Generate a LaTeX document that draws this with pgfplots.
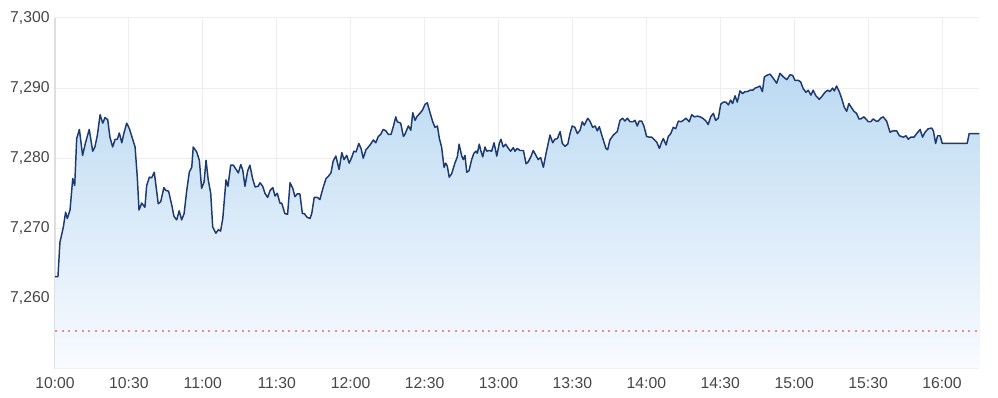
\documentclass[border=0pt]{standalone}
\usepackage{pgfplots}
\pgfplotsset{compat=1.18}
\usepackage{fontspec}
\setmainfont{Liberation Sans}
\definecolor{linec}{RGB}{28,58,110}
\definecolor{gridc}{RGB}{236,238,240}
\definecolor{axisc}{RGB}{220,222,225}
\definecolor{labc}{RGB}{70,70,70}
\definecolor{refc}{RGB}{238,140,140}
\definecolor{filltop}{RGB}{188,218,242}
\definecolor{fillbot}{RGB}{249,251,255}
\pgfplotstableread{
m v
0 7263.1
1.2 7263.1
2.0 7268.0
3.4 7270.2
4.3 7272.3
5.0 7271.4
6.1 7272.6
7.2 7277.1
8.0 7276.1
8.8 7282.8
9.9 7284.1
11.2 7280.4
12.3 7282.1
13.9 7284.1
15.3 7281.0
16.2 7281.6
17.2 7283.3
18.3 7286.2
19.4 7285.0
20.3 7285.8
21.4 7285.5
22.3 7283.0
23.4 7281.6
24.4 7282.7
25.3 7282.7
26.1 7283.6
27.1 7282.2
28.0 7283.6
29.1 7285.0
30.2 7284.2
32.5 7281.6
33.4 7277.3
34.1 7272.6
35.2 7273.6
36.5 7273.0
37.2 7276.1
38.3 7277.3
39.2 7277.2
40.3 7278.0
41.9 7273.5
42.9 7273.8
44.2 7275.8
45.0 7275.4
46.1 7275.3
47.4 7273.3
48.3 7271.7
49.4 7271.2
50.4 7272.5
51.4 7271.2
52.4 7272.1
53.4 7275.2
54.5 7278.0
55.5 7278.7
56.1 7281.6
57.5 7280.9
58.6 7279.7
59.5 7275.7
60.5 7276.6
61.3 7279.7
62.2 7276.9
63.2 7275.0
64.0 7270.2
65.3 7269.3
66.3 7269.8
67.2 7269.6
68.1 7271.4
69.4 7276.9
70.2 7276.0
71.3 7279.0
72.4 7279.0
73.5 7278.4
74.4 7277.9
75.4 7279.1
76.2 7278.3
77.1 7276.0
78.2 7278.2
79.1 7279.0
80.2 7277.1
81.2 7275.9
82.5 7276.0
83.2 7276.5
84.3 7276.0
85.2 7275.0
86.3 7274.4
87.3 7275.4
88.4 7275.8
89.3 7274.6
90.2 7275.0
91.3 7273.6
92.0 7273.6
93.3 7272.1
94.4 7272.0
95.4 7276.5
96.5 7275.7
97.4 7274.5
98.3 7274.9
99.4 7274.9
100.4 7272.1
101.2 7272.1
102.2 7271.6
103.5 7271.4
104.2 7272.1
105.2 7274.4
106.5 7274.4
107.5 7274.1
108.9 7275.9
110.0 7277.1
110.9 7277.4
112.0 7277.9
112.9 7279.6
114.0 7280.3
115.3 7278.4
116.4 7280.8
117.3 7279.8
118.4 7280.4
119.4 7279.3
120.4 7280.1
121.3 7281.0
122.2 7280.9
123.3 7282.1
124.2 7281.4
125.1 7280.0
126.2 7281.2
127.2 7281.6
128.1 7282.0
129.2 7282.6
130.2 7282.2
131.2 7283.1
132.2 7283.4
133.2 7284.1
134.3 7283.9
135.3 7283.4
136.4 7283.4
137.3 7284.5
138.3 7285.9
138.9 7285.2
140.3 7285.0
141.4 7283.1
142.0 7283.4
143.4 7284.6
144.4 7284.0
145.2 7286.5
146.1 7285.4
147.0 7286.0
148.1 7286.4
149.2 7286.9
150.2 7287.7
151.1 7287.9
152.2 7286.5
153.3 7285.2
154.2 7284.4
155.2 7284.6
156.0 7282.8
156.9 7281.6
157.9 7278.7
158.6 7279.3
159.2 7278.9
160.0 7277.3
161.0 7277.8
162.3 7279.3
163.3 7280.2
164.0 7282.0
165.1 7280.3
165.7 7279.8
166.4 7280.4
167.1 7278.0
168.0 7278.2
169.1 7279.8
170.0 7280.7
170.9 7281.0
171.4 7280.7
172.2 7282.0
172.8 7281.1
173.6 7280.2
174.5 7281.6
175.2 7281.0
176.3 7281.1
177.2 7281.0
178.2 7282.2
179.3 7280.3
180.3 7282.1
181.0 7282.7
181.9 7281.6
182.9 7282.0
184.0 7281.4
184.9 7281.0
186.0 7281.5
186.7 7281.0
187.6 7281.4
188.7 7281.1
190.1 7281.1
191.2 7279.2
192.1 7279.5
193.1 7280.2
194.1 7281.1
195.2 7280.4
196.1 7279.8
197.1 7280.1
198.2 7278.7
199.3 7280.7
200.9 7283.3
202.0 7282.2
202.9 7282.7
203.9 7282.8
205.0 7283.8
205.9 7282.1
207.0 7281.7
208.1 7282.0
209.0 7283.5
209.9 7284.6
211.0 7284.4
212.0 7283.5
213.1 7284.0
214.0 7285.2
214.8 7284.7
216.2 7285.7
217.1 7285.3
218.2 7284.4
219.2 7284.6
220.1 7283.9
220.9 7284.5
221.9 7283.3
222.8 7282.3
223.6 7281.4
224.3 7281.2
225.2 7282.6
226.6 7283.3
228.2 7283.8
229.3 7285.4
230.4 7285.7
231.3 7285.3
232.3 7285.7
233.4 7285.2
234.5 7285.2
235.4 7285.4
236.3 7284.6
237.1 7285.3
238.1 7285.3
239.0 7284.6
240.1 7283.1
241.2 7283.0
242.2 7283.0
242.8 7282.8
244.2 7282.3
245.3 7281.4
246.2 7282.3
246.9 7282.8
248.0 7281.9
248.9 7283.1
249.9 7283.5
250.9 7284.4
251.9 7284.2
253.0 7285.3
254.1 7285.2
255.0 7285.4
256.1 7285.7
257.4 7285.2
258.4 7286.2
259.5 7285.9
260.7 7286.0
261.8 7285.9
262.9 7285.7
264.2 7285.3
265.1 7284.8
266.1 7285.9
267.2 7286.4
268.1 7285.4
269.2 7285.7
270.2 7287.7
271.2 7288.0
272.3 7288.0
273.3 7287.6
274.2 7288.3
275.0 7287.8
276.0 7288.9
276.9 7288.0
278.0 7289.6
279.1 7289.2
280.0 7289.5
281.0 7289.5
282.1 7289.7
283.2 7289.7
284.1 7290.0
285.0 7290.1
286.1 7290.3
287.1 7289.5
287.9 7291.6
288.8 7291.8
290.2 7292.0
291.5 7291.4
292.9 7290.7
294.2 7292.1
295.6 7291.6
297.0 7291.2
298.3 7291.9
299.4 7291.8
300.3 7291.1
301.7 7291.1
302.6 7290.9
303.7 7289.9
304.8 7289.4
305.7 7289.7
306.8 7289.0
307.7 7289.7
308.8 7288.9
310.2 7288.4
311.2 7288.8
312.5 7289.4
313.6 7289.7
314.5 7289.5
315.6 7290.0
316.3 7289.6
317.2 7290.3
318.3 7289.5
319.3 7288.5
320.3 7287.3
321.3 7286.7
322.2 7287.8
323.3 7287.2
324.2 7286.7
325.3 7286.4
326.3 7285.6
327.0 7285.6
328.3 7285.9
329.1 7285.6
330.1 7285.2
331.0 7285.2
332.1 7285.6
333.2 7285.3
334.1 7285.3
335.1 7285.7
336.1 7285.9
337.5 7285.3
338.9 7283.7
340.0 7283.9
341.6 7283.9
342.7 7283.2
344.3 7283.0
345.4 7283.2
346.3 7282.7
347.3 7283.0
348.6 7283.0
349.7 7283.5
351.1 7284.1
352.1 7283.0
353.1 7283.7
354.4 7284.2
355.8 7284.3
356.5 7283.9
357.4 7282.1
358.2 7283.2
359.2 7283.2
360.1 7282.1
370.2 7282.1
371.0 7283.5
375.2 7283.5
}\pricedata
\begin{document}
\begin{tikzpicture}
\begin{axis}[
  at={(0,0)}, anchor=south west,
  scale only axis,
  width=693.4pt, height=262.9pt,
  xmin=0, xmax=375.2,
  ymin=7250, ymax=7300,
  axis lines*=left,
  axis line style={draw=axisc, line width=0.8pt},
  ytick={7260,7270,7280,7290,7300},
  xtick={0,30,60,90,120,150,180,210,240,270,300,330,360},
  xticklabels={10:00,10:30,11:00,11:30,12:00,12:30,13:00,13:30,14:00,14:30,15:00,15:30,16:00},
  major tick length=0pt,
  grid=major,
  major grid style={draw=gridc, line width=0.75pt},
  /pgf/number format/assume math mode=true,
  /pgf/number format/1000 sep={,},
  tick label style={font=\fontsize{11.8}{14}\selectfont, text=labc},
  yticklabel style={xshift=-0.5pt},
  xticklabel style={yshift=-3pt},
  clip=true,
]
\addplot[draw=none, top color=filltop, bottom color=fillbot] table[x=m,y=v]{\pricedata} \closedcycle;
\addplot[draw=refc, line width=1.4pt, dash pattern=on 1.5pt off 3.5pt] coordinates {(0,7255.3) (375.2,7255.3)};
\addplot[draw=linec, line width=1.1pt, line join=round] table[x=m,y=v]{\pricedata};
\end{axis}
\pgfresetboundingbox
\useasboundingbox (-41.25pt,-22.1pt) rectangle (707.3pt,276.4pt);
\end{tikzpicture}
\end{document}
